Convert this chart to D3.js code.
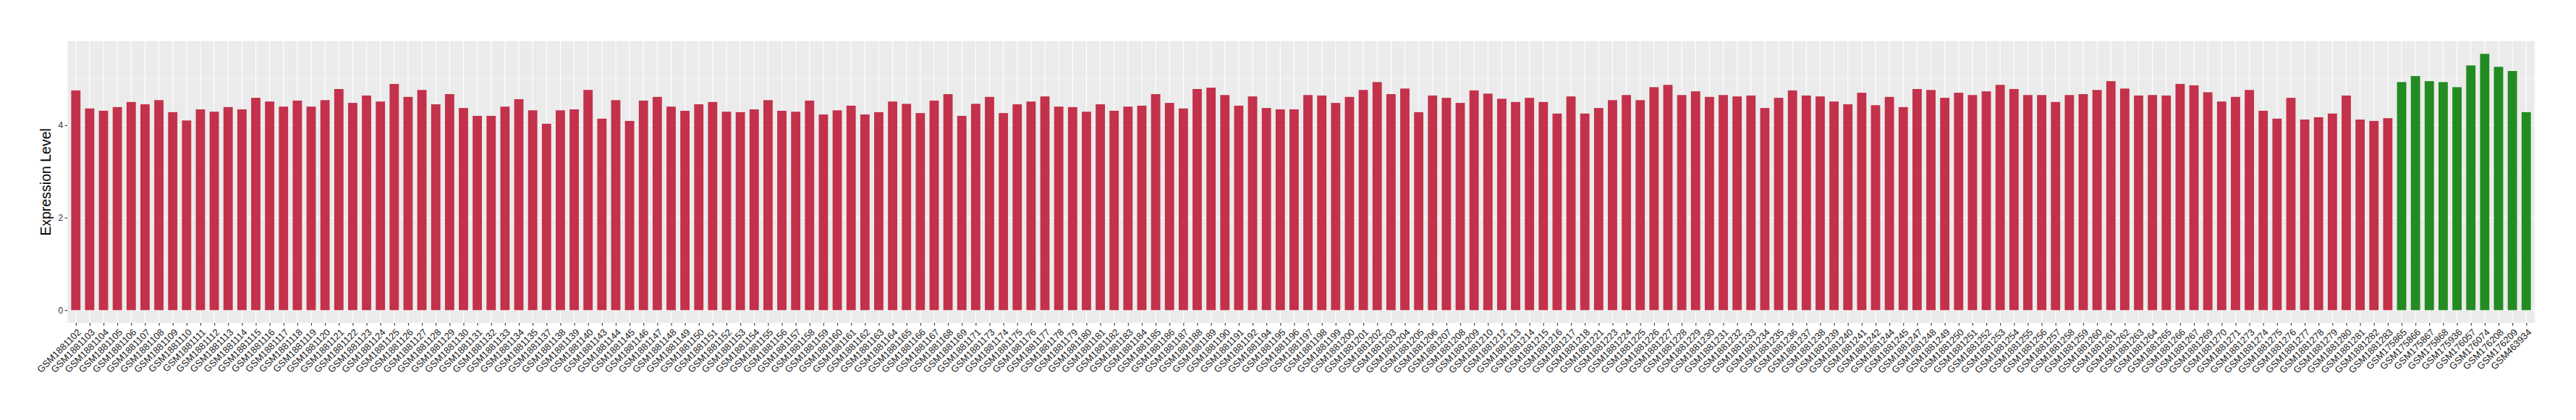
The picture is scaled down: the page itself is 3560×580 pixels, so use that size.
<!DOCTYPE html>
<html lang="en">
<head>
    <meta charset="UTF-8">
    <title>Expression Level</title>
    <script src="https://d3js.org/d3.v7.min.js"></script>
    <style>
        body { margin: 0; background: #fff; }
        text { font-family: "Liberation Sans", Arial, Helvetica, sans-serif; }
    </style>
</head>
<body>
    <script>
        // red samples (GSM1881xxx)
        var redSamples = [
            "GSM1881102","GSM1881103","GSM1881104","GSM1881105","GSM1881106","GSM1881107","GSM1881108","GSM1881109",
            "GSM1881110","GSM1881111","GSM1881112","GSM1881113","GSM1881114","GSM1881115","GSM1881116","GSM1881117",
            "GSM1881118","GSM1881119","GSM1881120","GSM1881121","GSM1881122","GSM1881123","GSM1881124","GSM1881125",
            "GSM1881126","GSM1881127","GSM1881128","GSM1881129","GSM1881130","GSM1881131","GSM1881132","GSM1881133",
            "GSM1881134","GSM1881135","GSM1881137","GSM1881138","GSM1881139","GSM1881140","GSM1881143","GSM1881144",
            "GSM1881145","GSM1881146","GSM1881147","GSM1881148","GSM1881149","GSM1881150","GSM1881151","GSM1881152",
            "GSM1881153","GSM1881154","GSM1881155","GSM1881156","GSM1881157","GSM1881158","GSM1881159","GSM1881160",
            "GSM1881161","GSM1881162","GSM1881163","GSM1881164","GSM1881165","GSM1881166","GSM1881167","GSM1881168",
            "GSM1881169","GSM1881171","GSM1881173","GSM1881174","GSM1881175","GSM1881176","GSM1881177","GSM1881178",
            "GSM1881179","GSM1881180","GSM1881181","GSM1881182","GSM1881183","GSM1881184","GSM1881185","GSM1881186",
            "GSM1881187","GSM1881188","GSM1881189","GSM1881190","GSM1881191","GSM1881192","GSM1881194","GSM1881195",
            "GSM1881196","GSM1881197","GSM1881198","GSM1881199","GSM1881200","GSM1881201","GSM1881202","GSM1881203",
            "GSM1881204","GSM1881205","GSM1881206","GSM1881207","GSM1881208","GSM1881209","GSM1881210","GSM1881212",
            "GSM1881213","GSM1881214","GSM1881215","GSM1881216","GSM1881217","GSM1881218","GSM1881221","GSM1881223",
            "GSM1881224","GSM1881225","GSM1881226","GSM1881227","GSM1881228","GSM1881229","GSM1881230","GSM1881231",
            "GSM1881232","GSM1881233","GSM1881234","GSM1881235","GSM1881236","GSM1881237","GSM1881238","GSM1881239",
            "GSM1881240","GSM1881241","GSM1881242","GSM1881244","GSM1881245","GSM1881247","GSM1881248","GSM1881249",
            "GSM1881250","GSM1881251","GSM1881252","GSM1881253","GSM1881254","GSM1881255","GSM1881256","GSM1881257",
            "GSM1881258","GSM1881259","GSM1881260","GSM1881261","GSM1881262","GSM1881263","GSM1881264","GSM1881265",
            "GSM1881266","GSM1881267","GSM1881269","GSM1881270","GSM1881271","GSM1881273","GSM1881274","GSM1881275",
            "GSM1881276","GSM1881277","GSM1881278","GSM1881279","GSM1881280","GSM1881281","GSM1881282","GSM1881283"
        ];
        var redValues = [
            4.75,4.36,4.31,4.39,4.50,4.45,4.54,4.28,
            4.10,4.34,4.29,4.39,4.34,4.59,4.51,4.40,
            4.53,4.40,4.54,4.78,4.48,4.64,4.51,4.89,
            4.61,4.76,4.45,4.67,4.37,4.20,4.20,4.40,
            4.56,4.32,4.03,4.32,4.34,4.76,4.14,4.54,
            4.09,4.53,4.61,4.40,4.31,4.45,4.50,4.29,
            4.28,4.34,4.54,4.31,4.29,4.53,4.23,4.32,
            4.42,4.23,4.28,4.51,4.46,4.26,4.53,4.67,
            4.20,4.46,4.61,4.26,4.45,4.51,4.62,4.40,
            4.39,4.29,4.45,4.31,4.40,4.42,4.67,4.48,
            4.36,4.78,4.81,4.65,4.42,4.62,4.37,4.34,
            4.34,4.65,4.64,4.48,4.61,4.76,4.93,4.67,
            4.79,4.28,4.64,4.59,4.48,4.75,4.68,4.57,
            4.50,4.59,4.50,4.25,4.62,4.25,4.37,4.54,
            4.65,4.54,4.82,4.87,4.65,4.73,4.61,4.65,
            4.62,4.64,4.37,4.59,4.75,4.64,4.62,4.51,
            4.45,4.70,4.43,4.61,4.39,4.78,4.76,4.59,
            4.70,4.65,4.73,4.87,4.78,4.65,4.65,4.50,
            4.65,4.67,4.76,4.95,4.79,4.64,4.65,4.64,
            4.89,4.86,4.71,4.51,4.61,4.76,4.31,4.14,
            4.59,4.12,4.17,4.25,4.64,4.12,4.09,4.15
        ];
        // green samples
        var greenSamples = ["GSM175865","GSM175866","GSM175867","GSM175868","GSM175936",
                            "GSM176057","GSM176074","GSM176208","GSM176209","GSM463934"];
        var greenValues = [4.93,5.06,4.95,4.93,4.82,5.29,5.54,5.26,5.17,4.28];

        var yTicks = [0, 2, 4];
        var yMinor = [1, 3, 5];

        var w = 3560, h = 580;
        var panelL = 93.3, panelR = 3502.7, panelT = 56.7, panelB = 446;

        var rows = redSamples.map((s, i) => ({ id: s, v: redValues[i], c: "#C3314A" }))
            .concat(greenSamples.map((s, i) => ({ id: s, v: greenValues[i], c: "#228B22" })));

        var maxV = d3.max(rows, d => d.v);

        var x = d3.scalePoint()
                  .domain(rows.map(d => d.id))
                  .range([panelL, panelR])
                  .padding(0.6);
        var barW = x.step() * 0.67;

        var y = d3.scaleLinear()
                  .domain([-0.05 * maxV, 1.05 * maxV])
                  .range([panelB, panelT]);

        var svg = d3.select("body")
                    .append("svg")
                    .attr("width", w)
                    .attr("height", h);

        svg.append("rect")
           .attr("x", panelL).attr("y", panelT)
           .attr("width", panelR - panelL).attr("height", panelB - panelT)
           .attr("fill", "#EBEBEB");

        // grid
        svg.append("g").selectAll("line")
           .data(yMinor)
           .join("line")
           .attr("x1", panelL).attr("x2", panelR)
           .attr("y1", d => y(d)).attr("y2", d => y(d))
           .attr("stroke", "#fff").attr("stroke-width", 0.55);

        svg.append("g").selectAll("line")
           .data(yTicks)
           .join("line")
           .attr("x1", panelL).attr("x2", panelR)
           .attr("y1", d => y(d)).attr("y2", d => y(d))
           .attr("stroke", "#fff").attr("stroke-width", 1.1);

        svg.append("g").selectAll("line")
           .data(rows)
           .join("line")
           .attr("x1", d => x(d.id)).attr("x2", d => x(d.id))
           .attr("y1", panelT).attr("y2", panelB)
           .attr("stroke", "#fff").attr("stroke-width", 1.1);

        // bars
        svg.append("g").selectAll("rect")
           .data(rows)
           .join("rect")
           .attr("x", d => x(d.id) - barW / 2)
           .attr("y", d => y(d.v))
           .attr("width", barW)
           .attr("height", d => y(0) - y(d.v))
           .attr("fill", d => d.c);

        // y axis
        var yAxis = svg.append("g")
           .attr("transform", `translate(${panelL},0)`)
           .call(d3.axisLeft(y).tickValues(yTicks).tickSize(3.7).tickPadding(2.5).tickFormat(d3.format("d")));
        yAxis.select(".domain").remove();
        yAxis.selectAll("line").attr("stroke", "#333333").attr("stroke-width", 1.1);
        yAxis.selectAll("text").attr("fill", "#333333").style("font-size", "12px")
             .style("font-family", "'Liberation Sans', Arial, sans-serif");

        // x axis
        var xAxis = svg.append("g")
           .attr("transform", `translate(0,${panelB})`)
           .call(d3.axisBottom(x).tickSize(3.7));
        xAxis.select(".domain").remove();
        xAxis.selectAll("line").attr("stroke", "#333333").attr("stroke-width", 1.1);
        xAxis.selectAll("text")
             .attr("x", 0).attr("y", 0).attr("dy", "0.71em")
             .attr("text-anchor", "end")
             .attr("transform", "translate(1,7) rotate(-45)")
             .attr("fill", "#222222")
             .style("font-size", "13px")
             .style("font-family", "'Liberation Sans', Arial, sans-serif");

        svg.append("text")
           .attr("transform", `translate(70,${(panelT + panelB) / 2}) rotate(-90)`)
           .attr("text-anchor", "middle")
           .style("font-size", "19.5px")
           .attr("fill", "#000")
           .text("Expression Level");
    </script>
</body>
</html>
